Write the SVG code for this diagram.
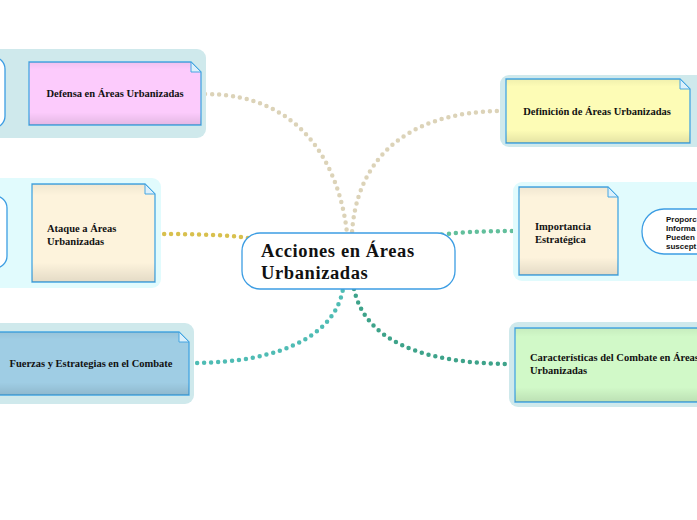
<svg xmlns="http://www.w3.org/2000/svg" width="697" height="520" viewBox="0 0 697 520">
<defs>
<linearGradient id="shade" x1="0" y1="0" x2="0" y2="1">
<stop offset="0" stop-color="#000" stop-opacity="0.05"/>
<stop offset="0.12" stop-color="#000" stop-opacity="0"/>
<stop offset="0.8" stop-color="#000" stop-opacity="0"/>
<stop offset="1" stop-color="#000" stop-opacity="0.1"/>
</linearGradient>
<style>
.bgA{fill:#cfe9ec}
.bgB{fill:#e1fbfd}
.note{stroke:#46a6e2;stroke-width:1.3}
.fold{fill:#dcf0fb;stroke:#46a6e2;stroke-width:1}
.pill{fill:#fff;stroke:#3c9de3;stroke-width:1.3}
.lbl{font-family:"Liberation Serif","DejaVu Serif",serif;font-weight:bold;font-size:10.5px;fill:#111}
.main{font-family:"Liberation Serif","DejaVu Serif",serif;font-weight:bold;font-size:18.5px;letter-spacing:0.6px;fill:#111}
.small{font-family:"Liberation Sans",Arial,sans-serif;font-weight:bold;font-size:8px;fill:#111}
.con{fill:none;stroke-width:4.5;stroke-linecap:round;stroke-dasharray:0 7}
</style>
</defs>
<rect width="697" height="520" fill="#fff"/>
<g id="connectors">
<path class="con" stroke="#dcd3b8" d="M205,94 C305,94 340,170 347,233"/>
<path class="con" stroke="#dcd3b8" d="M504,111 C400,111 356,165 352,233"/>
<path class="con" stroke="#d8c04e" d="M157,234 C200,234 228,235 248,238"/>
<path class="con" stroke="#62bf9c" d="M519,231 C485,231 455,232 432,236"/>
<path class="con" stroke="#4fbcb4" d="M190,363 C290,363 336,330 343,289"/>
<path class="con" stroke="#3ea38a" d="M354,289 C365,340 420,364 515,364"/>
</g>
<g id="defensa">
<rect class="bgA" x="-10" y="49" width="216" height="89" rx="9"/>
<rect class="pill" x="-40" y="57" width="45" height="71" rx="12"/>
<path class="note" fill="#fccbfc" d="M29,62 H191 L201,72 V125 H29 Z"/>
<path fill="url(#shade)" d="M29,62 H191 L201,72 V125 H29 Z"/>
<path class="fold" d="M191,62 V72 H201 Z"/>
<text class="lbl" x="115" y="97" text-anchor="middle">Defensa en Áreas Urbanizadas</text>
</g>
<g id="ataque">
<rect class="bgB" x="-10" y="178" width="171" height="110" rx="9"/>
<rect class="pill" x="-40" y="196" width="47" height="72" rx="12"/>
<path class="note" fill="#fdf3dc" d="M32,184 H145 L155,194 V282 H32 Z"/>
<path fill="url(#shade)" d="M32,184 H145 L155,194 V282 H32 Z"/>
<path class="fold" d="M145,184 V194 H155 Z"/>
<text class="lbl" x="47" y="232">Ataque a Áreas</text>
<text class="lbl" x="47" y="245">Urbanizadas</text>
</g>
<g id="fuerzas">
<rect class="bgA" x="-10" y="323" width="204" height="81" rx="9"/>
<path class="note" fill="#9fcde4" d="M-5,332 H179 L189,342 V395 H-5 Z"/>
<path fill="url(#shade)" d="M-5,332 H179 L189,342 V395 H-5 Z"/>
<path class="fold" d="M179,332 V342 H189 Z"/>
<text class="lbl" x="91" y="367" text-anchor="middle">Fuerzas y Estrategias en el Combate</text>
</g>
<g id="definicion">
<rect class="bgA" x="500" y="75" width="210" height="72" rx="9"/>
<path class="note" fill="#fdfcb6" d="M506,79 H680 L690,89 V143 H506 Z"/>
<path fill="url(#shade)" d="M506,79 H680 L690,89 V143 H506 Z"/>
<path class="fold" d="M680,79 V89 H690 Z"/>
<text class="lbl" x="597" y="115" text-anchor="middle">Definición de Áreas Urbanizadas</text>
</g>
<g id="importancia">
<rect class="bgB" x="513" y="182" width="200" height="99" rx="9"/>
<path class="note" fill="#fdf3dc" d="M519,187 H608 L618,197 V275 H519 Z"/>
<path fill="url(#shade)" d="M519,187 H608 L618,197 V275 H519 Z"/>
<path class="fold" d="M608,187 V197 H618 Z"/>
<text class="lbl" x="535" y="230">Importancia</text>
<text class="lbl" x="535" y="243">Estratégica</text>
</g>
<g id="proporciona">
<rect class="pill" x="642" y="209" width="90" height="45" rx="22"/>
<text class="small" x="666" y="222">Proporc</text>
<text class="small" x="666" y="231">Informa</text>
<text class="small" x="666" y="240">Pueden</text>
<text class="small" x="666" y="249">suscept</text>
</g>
<g id="caracteristicas">
<rect class="bgA" x="509" y="322" width="200" height="85" rx="9"/>
<path class="note" fill="#d1f9c8" d="M515,328 H705 V402 H515 Z"/>
<path fill="url(#shade)" d="M515,328 H705 V402 H515 Z"/>
<text class="lbl" x="530" y="361">Características del Combate en Áreas</text>
<text class="lbl" x="530" y="374">Urbanizadas</text>
</g>
<g id="central">
<rect x="242" y="233" width="213" height="56" rx="18" fill="#fff" stroke="#3c9de3" stroke-width="1.3"/>
<text class="main" x="261" y="257">Acciones en Áreas</text>
<text class="main" x="261" y="279">Urbanizadas</text>
</g>
</svg>
